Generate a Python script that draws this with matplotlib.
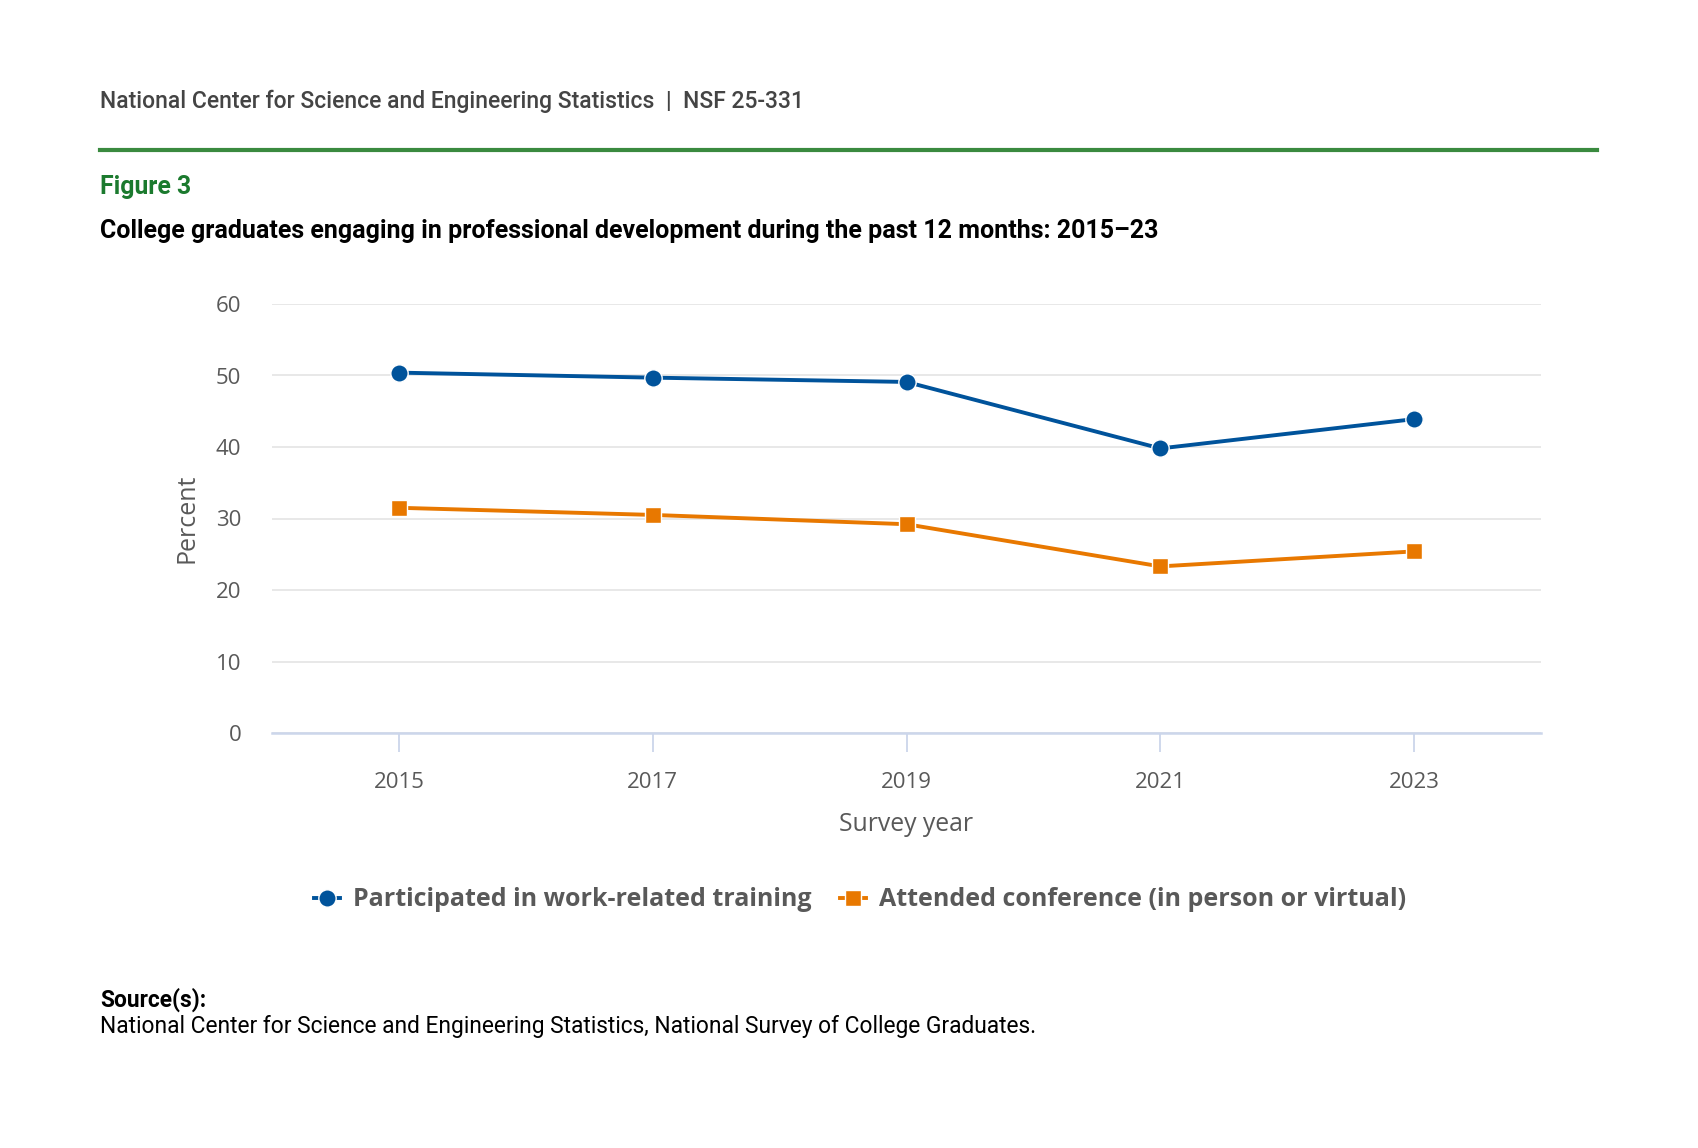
import matplotlib.pyplot as plt
from matplotlib.lines import Line2D

years = [2015, 2017, 2019, 2021, 2023]
training = [50.4, 49.7, 49.1, 39.8, 43.9]
conference = [31.5, 30.5, 29.2, 23.3, 25.4]
series_labels = ['Participated in work-related training', 'Attended conference (in person or virtual)']
y_ticks = [0, 10, 20, 30, 40, 50, 60]

blue = '#00539b'
orange = '#e87800'
gray = '#595959'

W, H = 1699, 1148
fig = plt.figure(figsize=(W / 100, H / 100), dpi=100)

# header
fig.text(100 / W, 1 - 101 / H, 'National Center for Science and Engineering Statistics  |  NSF 25-331',
         family='Roboto', fontsize=16.5, weight='medium', color='#444444', va='center')
fig.add_artist(Line2D([100 / W, 1597 / W], [1 - 150 / H] * 2, color='#3a8a3f', lw=3))
fig.text(100 / W, 1 - 187 / H, 'Figure 3', family='Roboto', fontsize=17.8, weight='bold',
         color='#1b7a2e', va='center')
fig.text(100 / W, 1 - 231 / H,
         'College graduates engaging in professional development during the past 12 months: 2015\u201323',
         family='Roboto', fontsize=18, weight='bold', color='black', va='center')

ax = fig.add_axes([272 / W, 1 - 733 / H, (1541 - 272) / W, (733 - 304) / H])
ax.plot(years, training, color=blue, lw=2.8, marker='o', ms=12.5, mec='white', mew=1,
        label=series_labels[0], zorder=3, clip_on=False)
ax.plot(years, conference, color=orange, lw=2.8, marker='s', ms=12, mec='white', mew=1,
        label=series_labels[1], zorder=3, clip_on=False)

ax.set_xlim(2014, 2024)
ax.set_ylim(0, 60)
ax.set_xticks(years)
ax.set_yticks(y_ticks)
ax.grid(axis='y', color='#e6e6e6', lw=1.3)
ax.set_axisbelow(True)
for s in ['top', 'right', 'left']:
    ax.spines[s].set_visible(False)
ax.spines['bottom'].set_color('#ccd6eb')
ax.spines['bottom'].set_linewidth(1.8)
ax.tick_params(axis='x', length=14, width=1.3, color='#ccd6eb', pad=14,
               labelsize=16, labelcolor=gray)
ax.tick_params(axis='y', length=0, pad=22, labelsize=16, labelcolor=gray)
for lab in ax.get_xticklabels() + ax.get_yticklabels():
    lab.set_family('Open Sans')
ax.set_xlabel('Survey year', family='Open Sans', fontsize=17.8, color=gray, labelpad=14)
ax.set_ylabel('Percent', family='Open Sans', fontsize=18, color=gray, labelpad=12)

leg = fig.legend(loc='center', bbox_to_anchor=(860 / W, 1 - 900 / H), ncol=2, frameon=False,
                 handlelength=1.05, columnspacing=1.15, handletextpad=0.5,
                 prop={'family': 'Open Sans', 'weight': 'bold', 'size': 18})
for t in leg.get_texts():
    t.set_color(gray)

# source
fig.text(100 / W, 1 - 1000 / H, 'Source(s):', family='Roboto', fontsize=16.4, weight='bold',
         color='black', va='center')
fig.text(100 / W, 1 - 1027 / H,
         'National Center for Science and Engineering Statistics, National Survey of College Graduates.',
         family='Roboto', fontsize=16.4, color='black', va='center')

fig.savefig('out.png', dpi=100, facecolor='white')
